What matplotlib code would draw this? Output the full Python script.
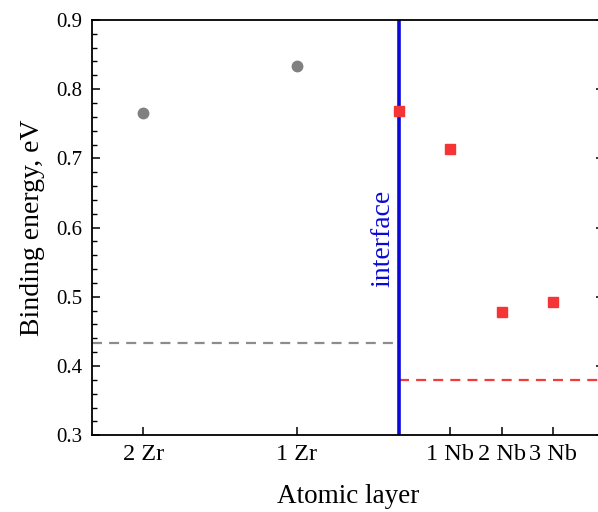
import numpy as np
import matplotlib.pyplot as plt

plt.rcParams['font.family'] = ['Liberation Serif', 'DejaVu Serif']
plt.rcParams['mathtext.fontset'] = 'stix'

# layer positions along the x axis
layer_labels = ['2 Zr', '1 Zr', '1 Nb', '2 Nb', '3 Nb']
layer_pos = [1, 4, 7, 8, 9]
interface_pos = 6

# binding energies, eV
zr_pos = [1, 4]
zr_energy = [0.766, 0.834]
nb_pos = [6, 7, 8, 9]
nb_energy = [0.768, 0.713, 0.478, 0.493]

# bulk reference levels
zr_bulk = 0.433
nb_bulk = 0.380

fig = plt.figure(figsize=(5.98, 5.12), dpi=100)
ax = fig.add_axes([0.154, 0.150, 0.856, 0.811])

ax.hlines(zr_bulk, 0, interface_pos, colors='#8c8c8c', linestyles=(0, (4.5, 3.2)), linewidth=1.6)
ax.hlines(nb_bulk, interface_pos, 10, colors='#f03c3c', linestyles=(0, (4.5, 3.2)), linewidth=1.6)
ax.axvline(interface_pos, color='#0a0ad8', linewidth=2.6, zorder=2)

ax.plot(zr_pos, zr_energy, 'o', color='#808080', markersize=7.5, zorder=3)
ax.plot(nb_pos, nb_energy, 's', color='#f53535', markersize=7, zorder=3)

ax.text(interface_pos - 0.32, 0.585, 'interface', rotation=90, color='#0a0ad8',
        fontsize=20, ha='center', va='center')

ax.set_xlim(0, 10)
ax.set_ylim(0.3, 0.9)
ax.set_xticks(layer_pos)
ax.set_xticklabels(layer_labels)
ax.set_yticks(np.arange(0.3, 0.91, 0.1))
ax.set_yticks(np.arange(0.3, 0.9, 0.02), minor=True)
ax.yaxis.set_major_formatter(plt.FormatStrFormatter('%.1f'))

ax.tick_params(axis='both', which='major', direction='in', length=6, width=1.1,
               right=True, pad=7)
ax.tick_params(axis='y', labelsize=15)
ax.tick_params(axis='x', labelsize=17.5, pad=6)
ax.tick_params(axis='y', which='minor', direction='in', length=3.5, width=1.0, right=True)
ax.tick_params(axis='x', which='minor', bottom=False)
for s in ax.spines.values():
    s.set_linewidth(1.3)

ax.set_xlabel('Atomic layer', fontsize=19.5, labelpad=14)
ax.set_ylabel('Binding energy, eV', fontsize=20, labelpad=8)

fig.savefig('out.png', dpi=100)
